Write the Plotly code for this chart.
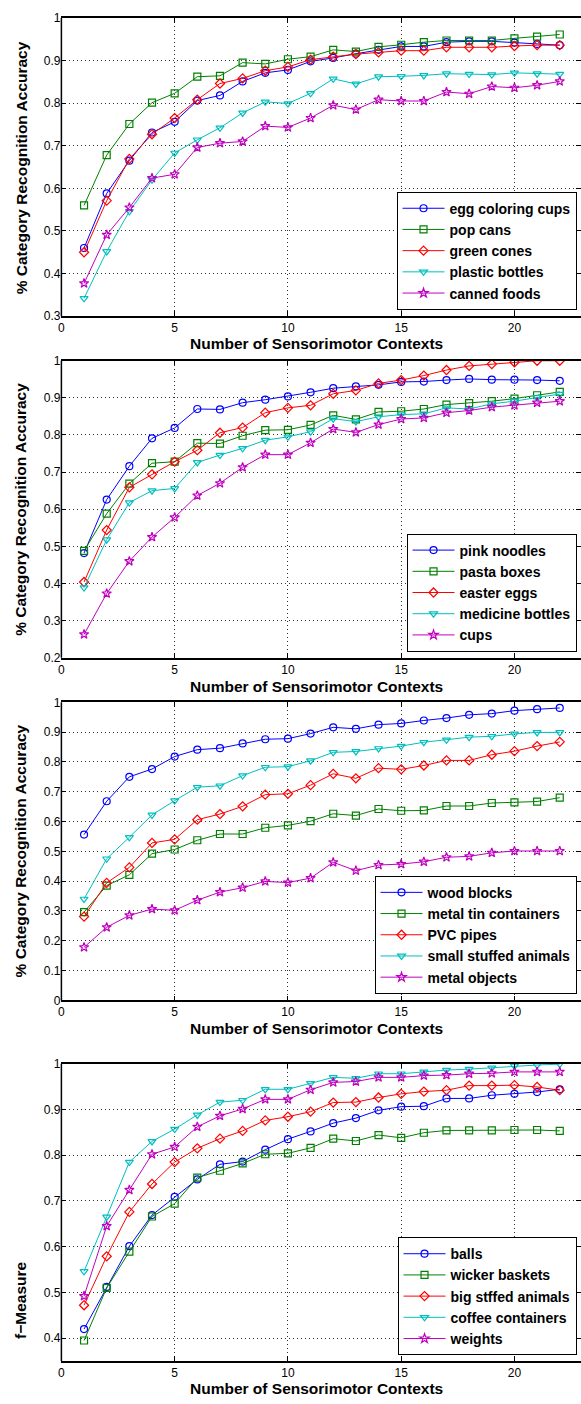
import plotly.graph_objects as go

W, H = 581, 1404

contexts = list(range(1, 23))

# ---- panel 1 ----
egg_coloring_cups = [0.460, 0.588, 0.665, 0.731, 0.756, 0.806, 0.818, 0.851, 0.871, 0.878, 0.898,
                     0.906, 0.916, 0.925, 0.933, 0.933, 0.943, 0.945, 0.945, 0.942, 0.939, 0.936]
pop_cans = [0.560, 0.678, 0.751, 0.801, 0.823, 0.862, 0.864, 0.895, 0.892, 0.903, 0.909,
            0.925, 0.921, 0.932, 0.937, 0.943, 0.947, 0.947, 0.947, 0.952, 0.956, 0.961]
green_cones = [0.450, 0.571, 0.669, 0.727, 0.765, 0.808, 0.846, 0.858, 0.876, 0.885, 0.902,
               0.909, 0.915, 0.919, 0.923, 0.923, 0.931, 0.931, 0.931, 0.934, 0.936, 0.936]
plastic_bottles = [0.342, 0.452, 0.546, 0.620, 0.683, 0.714, 0.742, 0.777, 0.803, 0.799, 0.823,
                   0.857, 0.845, 0.862, 0.863, 0.865, 0.869, 0.868, 0.867, 0.871, 0.869, 0.868]
canned_foods = [0.377, 0.491, 0.555, 0.624, 0.633, 0.696, 0.706, 0.710, 0.746, 0.743, 0.765,
                0.795, 0.785, 0.808, 0.805, 0.805, 0.826, 0.822, 0.839, 0.836, 0.842, 0.851]

# ---- panel 2 ----
pink_noodles = [0.482, 0.626, 0.716, 0.791, 0.819, 0.870, 0.869, 0.887, 0.895, 0.904, 0.915,
                0.926, 0.931, 0.935, 0.943, 0.944, 0.948, 0.951, 0.949, 0.949, 0.948, 0.946]
pasta_boxes = [0.488, 0.588, 0.669, 0.724, 0.728, 0.778, 0.777, 0.798, 0.813, 0.814, 0.827,
               0.853, 0.842, 0.862, 0.864, 0.870, 0.882, 0.886, 0.891, 0.898, 0.907, 0.916]
easter_eggs = [0.404, 0.544, 0.659, 0.694, 0.728, 0.759, 0.806, 0.820, 0.860, 0.873, 0.880,
               0.911, 0.920, 0.939, 0.948, 0.960, 0.975, 0.986, 0.991, 0.996, 1.000, 1.000]
medicine_bottles = [0.389, 0.518, 0.618, 0.650, 0.656, 0.726, 0.746, 0.764, 0.786, 0.795, 0.809,
                    0.844, 0.836, 0.849, 0.855, 0.857, 0.873, 0.870, 0.884, 0.891, 0.901, 0.910]
cups = [0.263, 0.373, 0.460, 0.525, 0.578, 0.637, 0.670, 0.713, 0.747, 0.747, 0.779,
        0.816, 0.807, 0.828, 0.843, 0.846, 0.860, 0.866, 0.875, 0.880, 0.887, 0.891]

# ---- panel 3 ----
wood_blocks = [0.556, 0.668, 0.750, 0.776, 0.818, 0.841, 0.846, 0.862, 0.876, 0.878, 0.895,
               0.916, 0.911, 0.925, 0.929, 0.939, 0.947, 0.958, 0.962, 0.972, 0.977, 0.981]
metal_tin_containers = [0.296, 0.385, 0.421, 0.492, 0.506, 0.537, 0.558, 0.558, 0.579, 0.587, 0.601,
                        0.626, 0.620, 0.642, 0.636, 0.637, 0.652, 0.652, 0.662, 0.664, 0.667, 0.680]
pvc_pipes = [0.281, 0.394, 0.446, 0.528, 0.540, 0.606, 0.625, 0.651, 0.690, 0.693, 0.722,
             0.760, 0.745, 0.779, 0.775, 0.788, 0.805, 0.805, 0.824, 0.836, 0.853, 0.867]
small_stuffed_animals = [0.340, 0.475, 0.547, 0.622, 0.670, 0.715, 0.720, 0.754, 0.782, 0.784, 0.804,
                         0.832, 0.835, 0.845, 0.853, 0.866, 0.874, 0.883, 0.886, 0.894, 0.899, 0.899]
metal_objects = [0.178, 0.245, 0.285, 0.306, 0.302, 0.336, 0.363, 0.378, 0.399, 0.395, 0.410,
                 0.463, 0.435, 0.454, 0.457, 0.465, 0.480, 0.483, 0.495, 0.501, 0.501, 0.501]

# ---- panel 4 ----
balls = [0.420, 0.512, 0.601, 0.669, 0.709, 0.747, 0.780, 0.786, 0.812, 0.835, 0.852,
         0.870, 0.881, 0.898, 0.906, 0.907, 0.924, 0.924, 0.931, 0.934, 0.938, 0.944]
wicker_baskets = [0.395, 0.510, 0.589, 0.666, 0.694, 0.751, 0.766, 0.782, 0.802, 0.804, 0.816,
                  0.836, 0.831, 0.844, 0.838, 0.849, 0.854, 0.854, 0.854, 0.855, 0.855, 0.853]
big_stffed_animals = [0.472, 0.579, 0.676, 0.737, 0.785, 0.815, 0.836, 0.853, 0.876, 0.884, 0.895,
                      0.915, 0.916, 0.926, 0.934, 0.939, 0.942, 0.952, 0.952, 0.953, 0.949, 0.942]
coffee_containers = [0.546, 0.665, 0.785, 0.830, 0.857, 0.888, 0.916, 0.920, 0.944, 0.944, 0.957,
                     0.970, 0.968, 0.978, 0.978, 0.982, 0.986, 0.988, 0.991, 0.995, 0.997, 0.999]
weights = [0.492, 0.645, 0.724, 0.802, 0.818, 0.862, 0.886, 0.901, 0.922, 0.922, 0.943,
           0.959, 0.961, 0.970, 0.970, 0.974, 0.975, 0.978, 0.979, 0.982, 0.982, 0.982]

x_label = "Number of Sensorimotor Contexts"
acc_label = "% Category Recognition Accuracy"
f_label = "f\u2212Measure"

colors = ["#0000FF", "#008000", "#FF0000", "#00BFBF", "#BF00BF"]
symbols = ["circle-open", "square-open", "diamond-open", "triangle-down-open", "star-open"]

panels = [
    dict(names=["egg coloring cups", "pop cans", "green cones", "plastic bottles", "canned foods"],
         series=[egg_coloring_cups, pop_cans, green_cones, plastic_bottles, canned_foods],
         yrange=[0.3, 1.0], ylabel=acc_label, top=11.0, bottom=312.3,
         ylab_y=162, xlab_y=340, leg_bottom=305.7),
    dict(names=["pink noodles", "pasta boxes", "easter eggs", "medicine bottles", "cups"],
         series=[pink_noodles, pasta_boxes, easter_eggs, medicine_bottles, cups],
         yrange=[0.2, 1.0], ylabel=acc_label, top=357.3, bottom=657.3,
         ylab_y=507, xlab_y=686, leg_bottom=651.0),
    dict(names=["wood blocks", "metal tin containers", "PVC pipes", "small stuffed animals", "metal objects"],
         series=[wood_blocks, metal_tin_containers, pvc_pipes, small_stuffed_animals, metal_objects],
         yrange=[0.0, 1.0], ylabel=acc_label, top=702.3, bottom=1003.3,
         ylab_y=852, xlab_y=1032, leg_bottom=996.7),
    dict(names=["balls", "wicker baskets", "big stffed animals", "coffee containers", "weights"],
         series=[balls, wicker_baskets, big_stffed_animals, coffee_containers, weights],
         yrange=[0.35, 1.0], ylabel=f_label, top=1067.3, bottom=1367.7,
         ylab_y=1306, xlab_y=1395, leg_bottom=1361.7),
]

FONT = "Liberation Sans, Arial, Helvetica, sans-serif"
left_px = 58.7
px_per_unit = 22.77
x_max = (W - left_px) / px_per_unit

fig = go.Figure()
layout = dict(
    width=W, height=H,
    margin=dict(l=0, r=0, t=0, b=0),
    paper_bgcolor="white", plot_bgcolor="white",
    font=dict(family=FONT, size=12, color="black"),
    showlegend=True,
)
shapes = []
annotations = []
grid_style = dict(showgrid=True, gridcolor="#333", griddash="1px,3px", gridwidth=1)
title_font = dict(family=FONT, size=15.5, color="black", weight="bold")

for i, p in enumerate(panels):
    k = "" if i == 0 else str(i + 1)
    xa, ya = "xaxis" + k, "yaxis" + k
    leg = "legend" + k
    for name, ys, c, s in zip(p["names"], p["series"], colors, symbols):
        fig.add_trace(go.Scatter(
            x=contexts, y=ys, name=name, mode="lines+markers",
            line=dict(color=c, width=1),
            marker=dict(symbol=s, size=7, color=c, line=dict(color=c, width=1.2)),
            xaxis="x" + k, yaxis="y" + k, legend=leg,
        ))
    layout[xa] = dict(
        domain=[left_px / W, 1.0], range=[0, x_max], anchor="y" + k,
        tickmode="array", tickvals=[0, 5, 10, 15, 20],
        ticks="inside", ticklen=5, tickcolor="black", tickwidth=1,
        showline=True, linecolor="black", linewidth=1.5, mirror="ticks",
        zeroline=False, tickfont=dict(size=12), **grid_style,
    )
    layout[ya] = dict(
        domain=[1 - p["bottom"] / H, 1 - p["top"] / H], range=p["yrange"], anchor="x" + k,
        tick0=0, dtick=0.1,
        ticks="inside", ticklen=5, tickcolor="black", tickwidth=1,
        showline=False, mirror="ticks",
        zeroline=False, tickfont=dict(size=12), **grid_style,
    )
    # left spine
    shapes.append(dict(type="line", xref="x" + k + " domain", yref="y" + k + " domain",
                       x0=0, x1=0, y0=0, y1=1, line=dict(color="black", width=1.5)))
    layout[leg] = dict(
        x=576.5 / W, xanchor="right", y=1 - p["leg_bottom"] / H, yanchor="bottom",
        bgcolor="white", bordercolor="black", borderwidth=1,
        font=dict(family=FONT, size=14, color="black", weight="bold"),
        itemwidth=42, tracegroupgap=0,
    )
    annotations.append(dict(
        text=x_label, xref="paper", yref="paper", x=315 / W, y=1 - p["xlab_y"] / H,
        xanchor="center", yanchor="middle", showarrow=False, font=title_font,
    ))
    annotations.append(dict(
        text=p["ylabel"], xref="paper", yref="paper", x=18 / W, y=1 - p["ylab_y"] / H,
        xanchor="center", yanchor="middle", showarrow=False, textangle=-90, font=title_font,
    ))

layout["shapes"] = shapes
layout["annotations"] = annotations
fig.update_layout(**layout)
fig.write_html("out.html")
